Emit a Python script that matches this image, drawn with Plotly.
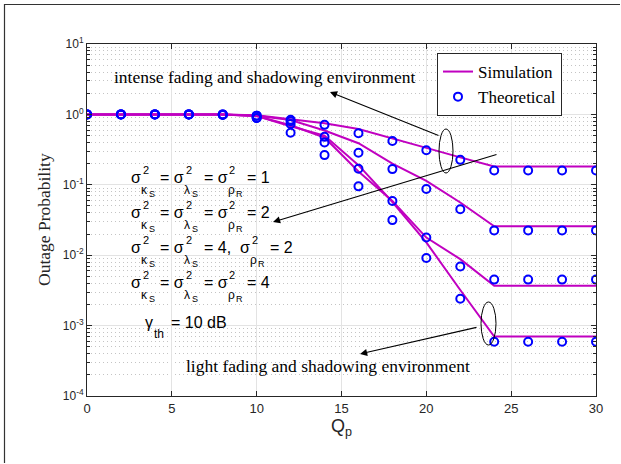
import plotly.graph_objects as go

# ---------------- data ----------------
qp = [0, 2, 4, 6, 8, 10, 12, 14, 16, 18, 20, 22, 24, 26, 28, 30]

sim_1 = [1, 1, 1, 1, 1, 0.97, 0.86, 0.75, 0.62, 0.46, 0.335, 0.245, 0.182, 0.182, 0.182, 0.182]
sim_2 = [1, 1, 1, 1, 1, 0.96, 0.83, 0.59, 0.39, 0.20, 0.114, 0.056, 0.0257, 0.0257, 0.0257, 0.0257]
sim_3 = [1, 1, 1, 1, 1, 0.95, 0.70, 0.47, 0.155, 0.059, 0.0178, 0.0088, 0.00367, 0.00367, 0.00367, 0.00367]
sim_4 = [1, 1, 1, 1, 1, 0.95, 0.68, 0.50, 0.19, 0.057, 0.0152, 0.0032, 0.0007, 0.0007, 0.0007, 0.0007]

theo_1 = [1, 1, 1, 1, 1, 0.96, 0.84, 0.71, 0.54, 0.42, 0.31, 0.226, 0.16, 0.16, 0.16, 0.16]
theo_2 = [1, 1, 1, 1, 1, 0.96, 0.80, 0.48, 0.285, 0.167, 0.087, 0.045, 0.0225, 0.0225, 0.0225, 0.0225]
theo_3 = [1, 1, 1, 1, 0.99, 0.89, 0.73, 0.40, 0.169, 0.059, 0.0178, 0.0069, 0.0045, 0.0045, 0.0045, 0.0045]
theo_4 = [1, 1, 1, 1, 0.98, 0.89, 0.55, 0.264, 0.095, 0.0315, 0.0091, 0.0024, 0.00059, 0.00059, 0.00059, 0.00059]

sim_series = [sim_1, sim_2, sim_3, sim_4]
theo_series = [theo_1, theo_2, theo_3, theo_4]

x_ticks = [0, 5, 10, 15, 20, 25, 30]
y_tick_vals = [1e-4, 1e-3, 1e-2, 1e-1, 1e0, 1e1]
y_tick_text = ["10<sup>-4</sup>", "10<sup>-3</sup>", "10<sup>-2</sup>", "10<sup>-1</sup>", "10<sup>0</sup>", "10<sup>1</sup>"]
y_minor_vals = [m * 10 ** e for e in range(-4, 1) for m in range(2, 10)]

legend_names = ["Simulation", "Theoretical"]
label_top = "intense fading and shadowing environment"
label_bottom = "light fading and shadowing environment"
x_title = "Q<sub>p</sub>"
y_title = "Outage Probability"

# ---------------- styling ----------------
W, H = 621, 464
L, R, T, B = 87, 25, 44, 68
PW, PH = W - L - R, H - T - B
SERIF = "Liberation Serif"
SANS = "Liberation Sans"
AX = "#262626"
MAG = "#C000C0"
BLUE = "#0000FF"


def px(xp):
    return (xp - L) / PW


def py(yp):
    return (T + PH - yp) / PH


fig = go.Figure()

for i, s in enumerate(sim_series):
    fig.add_trace(go.Scatter(
        x=qp, y=s, mode="lines", name=legend_names[0],
        line=dict(color=MAG, width=2), legendgroup="sim",
        showlegend=(i == 0)))

for i, s in enumerate(theo_series):
    fig.add_trace(go.Scatter(
        x=qp, y=s, mode="markers", name=legend_names[1],
        marker=dict(symbol="circle-open", size=8, color=BLUE, line=dict(width=2, color=BLUE)),
        legendgroup="theo", showlegend=(i == 0)))

annotations = []


def txt(x, y, s, size, family=SANS, color="black", anchor="left", angle=0):
    annotations.append(dict(
        x=px(x), y=py(y), xref="paper", yref="paper", text=s, showarrow=False,
        xanchor=anchor, yanchor="middle", textangle=angle,
        font=dict(size=size, family=family, color=color)))


# main labels
txt(264, 77, label_top, 17.5, SERIF, anchor="center")
txt(328, 366, label_bottom, 17.5, SERIF, anchor="center")
txt(341, 427, x_title, 18, SANS, color=AX, anchor="center")
txt(44, 220, y_title, 17.5, SERIF, color=AX, anchor="center", angle=-90)


def sigma(x0, yc, sub, subsub):
    txt(x0, yc, "σ", 16)
    txt(x0 + 11.5, yc - 7, "2", 11)
    txt(x0 + 10, yc + 13, sub, 12)
    txt(x0 + 17.5, yc + 17, subsub, 9)


rows = [(177, "= 1"), (212, "= 2"), (247, None), (282, "= 4")]
for yc, val in rows:
    sigma(129, yc, "κ", "S")
    txt(158, yc, "= σ", 16)
    txt(183.5, yc - 7, "2", 11)
    txt(182, yc + 13, "λ", 12)
    txt(190, yc + 17, "S", 9)
    if val is not None:
        txt(202, yc, "= σ", 16)
        txt(226.5, yc - 7, "2", 11)
        txt(226, yc + 13, "ρ", 12)
        txt(233.5, yc + 17, "R", 9)
        txt(245, yc, val, 16)
    else:
        txt(202, yc, "= 4,", 16)
        sigma(238, yc, "ρ", "R")
        txt(268, yc, "= 2", 16)

txt(143, 322.5, "γ", 16)
txt(152, 334, "th", 12)
txt(169, 322.5, "= 10 dB", 16)


def arrow(tail, head):
    annotations.append(dict(
        x=px(head[0]), y=py(head[1]), xref="paper", yref="paper",
        ax=tail[0] - head[0], ay=tail[1] - head[1], axref="pixel", ayref="pixel",
        text="", showarrow=True, arrowhead=2, arrowsize=1.3, arrowwidth=1.1,
        arrowcolor="black"))


arrow((440, 136), (330, 92))
arrow((498, 154), (273, 222))
arrow((478, 327), (360, 354))

shapes = [
    dict(type="circle", xref="paper", yref="paper", x0=px(439), x1=px(453), y0=py(173), y1=py(129),
         line=dict(color="black", width=1)),
    dict(type="circle", xref="paper", yref="paper", x0=px(481), x1=px(496), y0=py(345), y1=py(302),
         line=dict(color="black", width=1)),
    # outer figure frame (top and left visible)
    dict(type="line", xref="paper", yref="paper", x0=px(4), x1=px(620), y0=py(4.5), y1=py(4.5),
         line=dict(color="#333333", width=1.2)),
    dict(type="line", xref="paper", yref="paper", x0=px(4.5), x1=px(4.5), y0=py(4), y1=py(463),
         line=dict(color="#333333", width=1.2)),
]

fig.update_layout(
    width=W, height=H,
    margin=dict(l=L, r=R, t=T, b=B, pad=0),
    paper_bgcolor="white", plot_bgcolor="white",
    annotations=annotations, shapes=shapes,
    legend=dict(x=px(437), y=py(53), xanchor="left", yanchor="top",
                bgcolor="white", bordercolor=AX, borderwidth=1,
                font=dict(family=SERIF, size=17, color="black"),
                tracegroupgap=0),
    showlegend=True,
)

fig.update_xaxes(
    range=[0, 30], tickvals=x_ticks, ticks="inside", ticklen=5, tickcolor=AX,
    showline=True, linecolor=AX, linewidth=1, mirror="allticks",
    showgrid=True, gridcolor="#e3e3e3", gridwidth=1, zeroline=False,
    tickfont=dict(family=SANS, size=13, color=AX),
)

fig.update_yaxes(
    type="log", range=[-4, 1], tickmode="array", tickvals=y_tick_vals, ticktext=y_tick_text,
    ticks="inside", ticklen=5, tickcolor=AX,
    showline=True, linecolor=AX, linewidth=1, mirror="allticks",
    showgrid=True, gridcolor="#e3e3e3", gridwidth=1, zeroline=False,
    tickfont=dict(family=SANS, size=12, color=AX),
    minor=dict(tickmode="array", tickvals=y_minor_vals, ticks="inside", ticklen=3, tickcolor=AX,
               showgrid=True, gridcolor="#c4c4c4", griddash="1px,3px", gridwidth=1),
)

fig.write_html("out.html", config={"displayModeBar": False},
               post_script="document.body.style.margin='0px';")
